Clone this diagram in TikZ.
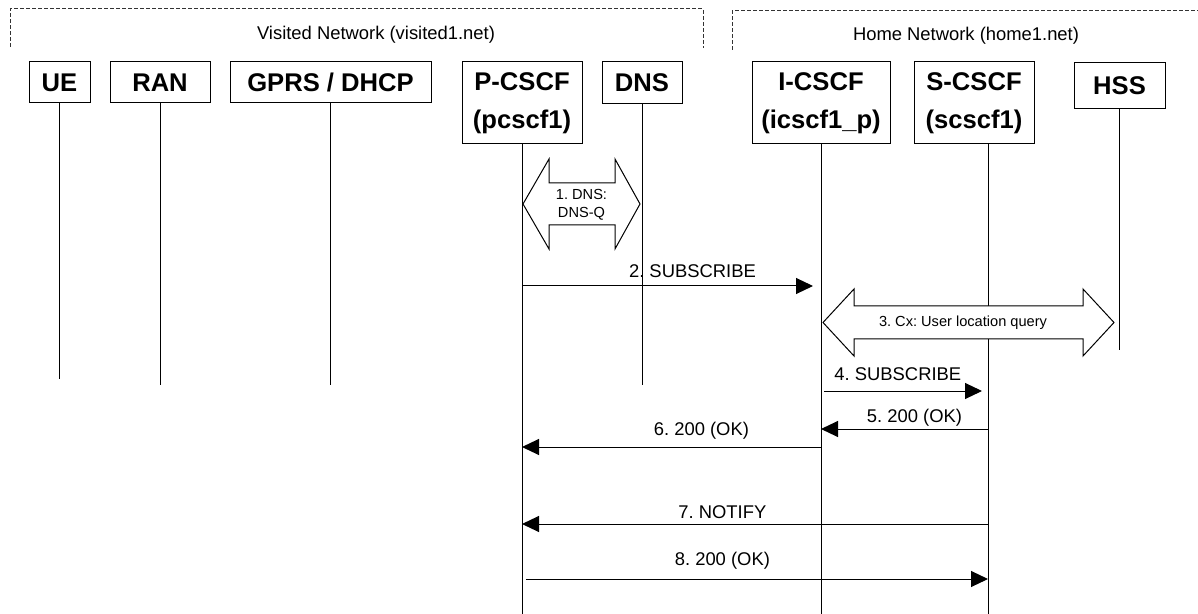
\documentclass[tikz,border=0pt]{standalone}
\usepackage{fontspec}
\setmainfont{Liberation Sans}
\frenchspacing
\usetikzlibrary{arrows.meta}
\tikzset{
	box/.style={draw, line width=0.5pt, font=\bfseries\fontsize{12.8}{19}\selectfont, align=center, inner sep=0pt},
	life/.style={line width=0.5pt},
	msg/.style={line width=0.5pt, -{Triangle[length=8.5pt,width=8pt]}},
	lbl/.style={font=\fontsize{9.2}{11}\selectfont, anchor=base, inner sep=0pt},
	netlbl/.style={font=\fontsize{9.2}{11}\selectfont, inner sep=0pt},
	fat/.style={draw, line width=0.5pt, fill=white, line join=miter},
	small/.style={font=\fontsize{7.3}{9}\selectfont, align=center, inner sep=0pt},
	net/.style={draw=black!80, line width=0.5pt, dash pattern=on 2pt off 1pt}
}
\begin{document}
\begin{tikzpicture}[x=0.5pt, y=-0.5pt]
		\useasboundingbox (0,0) rectangle (1198,614);
		\draw[net] (10,47) -- (10,9) -- (703,9) -- (703,48);
		\draw[net] (732,50) -- (732,11) -- (1198,11);
		\node[netlbl] (visited) at (376,35) {Visited Network (visited1.net)};
		\node[netlbl] (home) at (966,36) {Home Network (home1.net)};
		\node[box, minimum width=30.5pt, minimum height=20.5pt] (ue) at (59.5,82.5) {UE};
		\node[box, minimum width=50pt, minimum height=20.5pt] (ran) at (160,82.5) {RAN};
		\node[box, minimum width=100.5pt, minimum height=20.5pt] (gprs) at (330.5,82.5) {GPRS / DHCP};
		\node[box, minimum width=60pt, minimum height=41pt] (pcscf) at (522,103) {P-CSCF\\(pcscf1)};
		\node[box, minimum width=40pt, minimum height=21pt] (dns) at (642,83) {DNS};
		\node[box, minimum width=69pt, minimum height=41pt] (icscf) at (821,103) {I-CSCF\\(icscf1\_p)};
		\node[box, minimum width=60pt, minimum height=41pt] (scscf) at (974,103) {S-CSCF\\(scscf1)};
		\node[box, minimum width=45.5pt, minimum height=23pt] (hss) at (1119.5,86) {HSS};
		\coordinate (ue-end) at (ue |- 0,379);
		\coordinate (ran-end) at (ran |- 0,385);
		\coordinate (gprs-end) at (gprs |- 0,385);
		\coordinate (pcscf-end) at (pcscf |- 0,614);
		\coordinate (dns-end) at (dns |- 0,385);
		\coordinate (icscf-end) at (icscf |- 0,614);
		\coordinate (scscf-top) at (988,144);
		\coordinate (scscf-end) at (988,614);
		\coordinate (hss-end) at (hss |- 0,350);
		\draw[life] (ue) -- (ue-end);
		\draw[life] (ran) -- (ran-end);
		\draw[life] (gprs) -- (gprs-end);
		\draw[life] (pcscf) -- (pcscf-end);
		\draw[life] (dns) -- (dns-end);
		\draw[life] (icscf) -- (icscf-end);
		\draw[life] (scscf-top) -- (scscf-end);
		\draw[life] (hss) -- (hss-end);
		\draw[fat] (523,204) -- (549,159) -- (549,183) -- (615,183) -- (615,159) -- (640,204) -- (615,249) -- (615,225) -- (549,225) -- (549,249) -- cycle;
		\node[small] (dnsq) at (581.5,205) {1. DNS:\\DNS-Q};
		\draw[msg, shorten >=4pt] (pcscf |- 0,286) -- node[lbl, pos=0.57, yshift=4.25pt]{2. SUBSCRIBE} (icscf |- 0,286);
		\draw[fat] (823,322.5) -- (854,289) -- (854,306) -- (1083,306) -- (1083,289) -- (1114,322.5) -- (1083,356) -- (1083,339) -- (854,339) -- (854,356) -- cycle;
		\node[small] (cxq) at (963,323) {3. Cx: User location query};
		\draw[msg, shorten <=1.5pt, shorten >=3pt] (icscf |- 0,391) -- node[lbl, pos=0.46, yshift=5.25pt]{4. SUBSCRIBE} (scscf-end |- 0,391);
		\draw[msg] (scscf-end |- 0,429) -- node[lbl, pos=0.44, yshift=3.25pt]{5. 200 (OK)} (icscf |- 0,429);
		\draw[msg] (icscf |- 0,447) -- node[lbl, pos=0.40, yshift=5.75pt]{6. 200 (OK)} (pcscf |- 0,447);
		\draw[msg] (scscf-end |- 0,524) -- node[lbl, pos=0.57, yshift=2.75pt]{7. NOTIFY} (pcscf |- 0,524);
		\draw[msg, shorten <=2pt] (pcscf |- 0,579) -- node[lbl, pos=0.43, yshift=6.75pt]{8. 200 (OK)} (scscf-end |- 0,579);
\end{tikzpicture}
\end{document}
